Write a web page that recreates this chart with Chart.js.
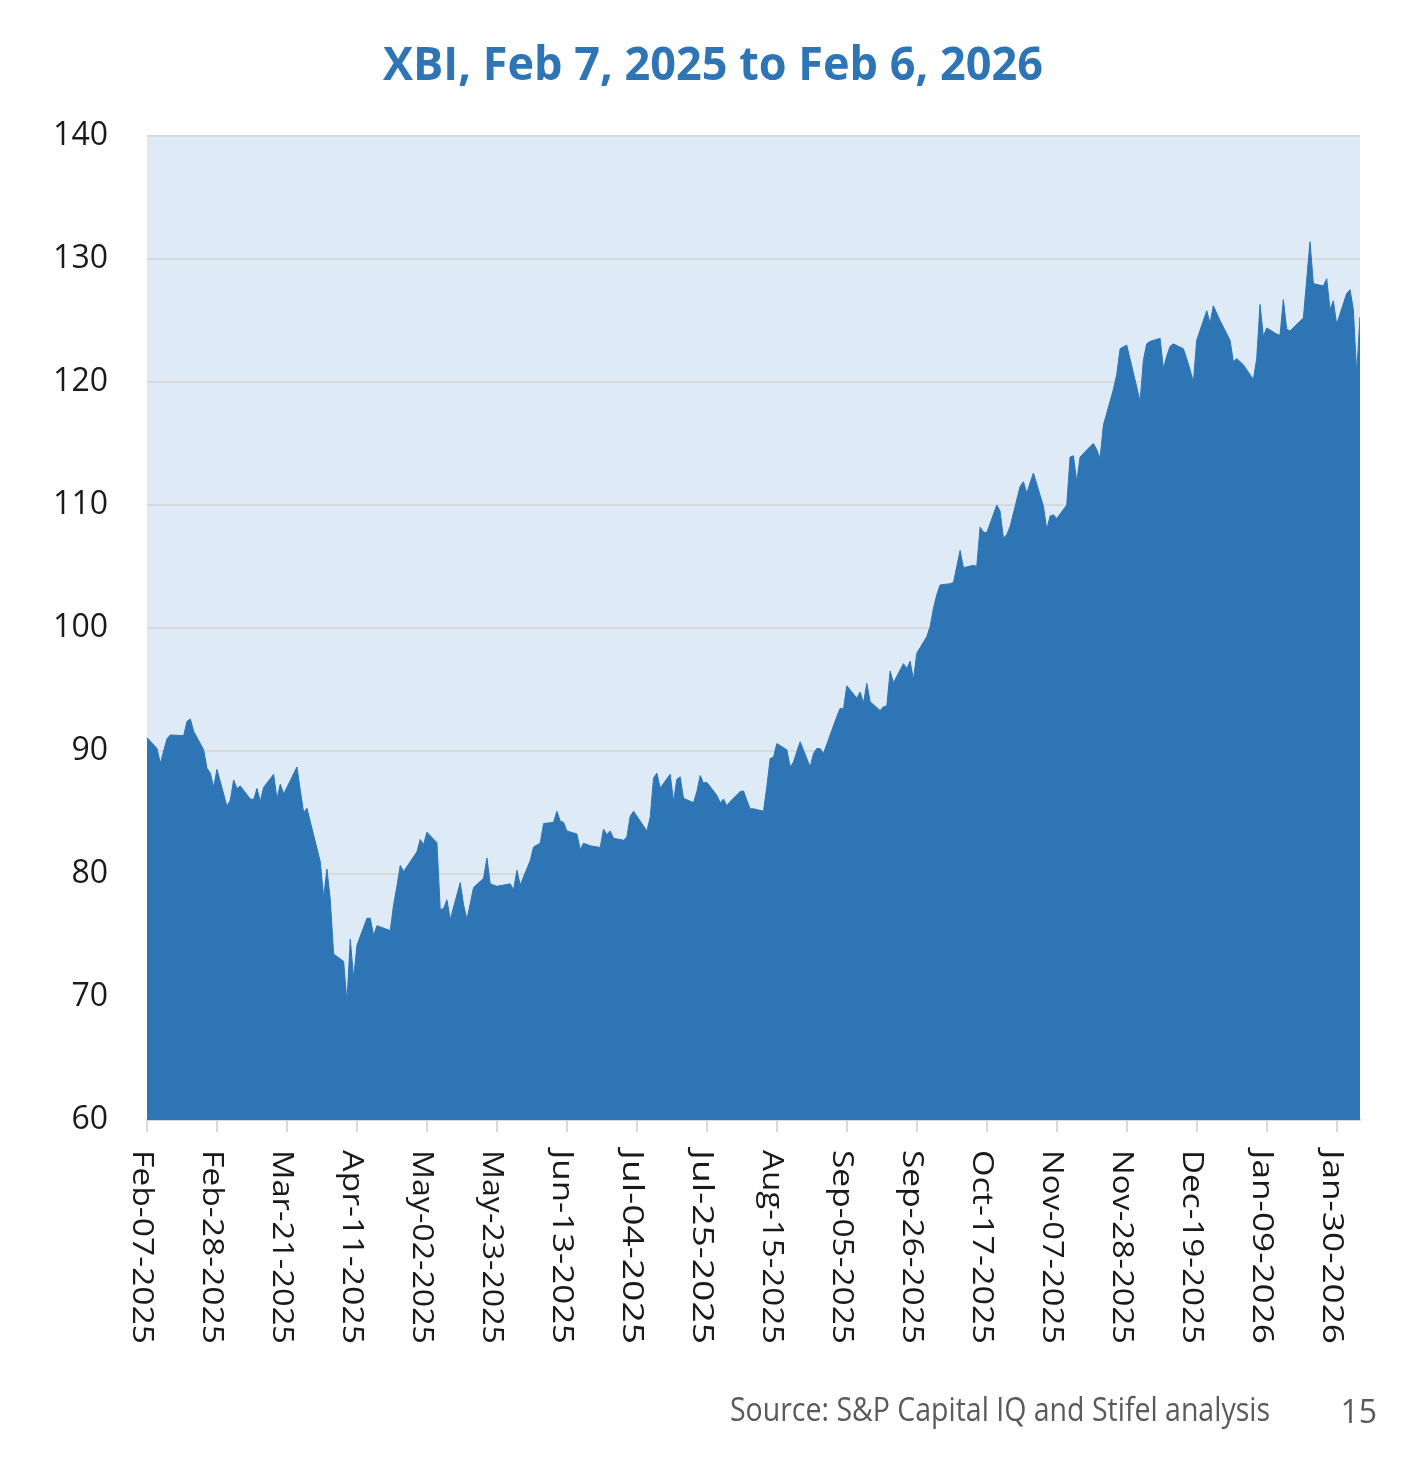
<!DOCTYPE html>
<html><head><meta charset="utf-8">
<script src="https://cdn.jsdelivr.net/npm/chart.js@4.4.1/dist/chart.umd.min.js"></script>
<style>html,body{margin:0;padding:0;background:#fff;}canvas{display:block;}</style>
</head><body>
<canvas id="c" width="1401" height="1474"></canvas>
<script>
// Day offsets from Feb 7, 2025 (trading days)
const tradingDays = [
0,3,4,5,6,7,11,12,13,14,17,18,19,20,21,24,25,26,27,28,31,32,33,34,35,38,39,40,41,42,45,46,47,48,49,
52,53,54,55,56,59,60,61,62,63,66,67,68,69,73,74,75,76,77,80,81,82,83,84,87,88,89,90,91,94,95,96,97,98,
101,102,103,104,105,109,110,111,112,115,116,117,118,119,122,123,124,125,126,129,130,131,133,136,137,138,139,140,
143,144,145,146,150,151,152,153,154,157,158,159,160,161,164,165,166,167,168,171,172,173,174,175,178,179,180,181,182,
185,186,187,188,189,192,193,194,195,196,199,200,201,202,203,207,208,209,210,213,214,215,216,217,220,221,222,223,224,
227,228,229,230,231,234,235,236,237,238,241,242,243,244,245,248,249,250,251,252,255,256,257,258,259,262,263,264,265,266,
269,270,271,272,273,276,277,278,279,280,283,284,285,286,287,290,291,292,294,297,298,299,300,301,304,305,306,307,308,
311,312,313,314,315,318,319,320,322,325,326,327,329,332,333,334,335,336,339,340,341,342,343,347,348,349,350,353,354,355,356,357,
360,361,362,363,364];
const xbiClose = [
91.1,90.2,89.0,90.0,91.0,91.3,91.25,92.4,92.6,91.6,90.1,88.6,88.2,87.05,88.5,85.5,86.0,87.65,86.95,87.15,86.1,86.05,86.95,85.9,87.05,88.1,86.1,87.3,86.5,87.05,88.7,86.8,85.0,85.35,84.25,
81.0,78.1,80.4,77.9,73.5,72.9,69.6,74.7,71.5,74.2,76.4,76.4,75.0,75.8,75.4,77.5,79.0,80.7,80.2,81.4,81.8,82.8,82.4,83.4,82.55,77.1,77.2,77.9,76.3,79.3,77.5,76.3,77.6,78.9,
79.65,81.3,79.2,79.1,79.0,79.2,78.7,80.3,79.1,81.1,82.2,82.35,82.5,84.1,84.2,85.1,84.3,84.2,83.5,83.25,82.0,82.5,82.3,82.15,83.65,83.2,83.5,82.9,
82.75,83.0,84.7,85.1,83.5,84.6,87.8,88.2,87.0,88.1,85.9,87.7,87.9,86.15,85.8,86.7,88.0,87.4,87.45,86.4,85.8,86.1,85.55,85.9,86.7,86.75,86.0,85.3,85.3,
85.1,87.1,89.4,89.5,90.6,90.1,88.7,89.1,89.95,90.75,88.7,89.8,90.2,90.2,89.8,92.8,93.47,93.4,95.3,94.3,94.8,93.9,95.5,94.0,93.3,93.6,93.66,96.5,95.55,
97.1,96.7,97.3,95.8,97.95,99.3,100.1,101.6,102.7,103.5,103.6,103.7,105.0,106.3,104.9,105.1,105.0,108.2,107.8,107.75,110.0,109.5,107.3,107.6,108.25,111.5,111.9,110.95,111.8,112.6,
109.9,108.0,109.1,109.2,108.9,110.0,113.9,114.0,111.9,113.9,114.75,115.0,114.5,113.8,116.5,119.4,120.6,122.7,123.0,119.6,118.4,121.8,123.1,123.3,123.55,121.1,122.1,122.9,123.1,
122.7,121.9,121.0,120.0,123.4,125.8,124.8,126.2,125.0,123.4,121.65,121.9,121.4,120.2,121.9,126.3,123.7,124.4,123.9,123.8,126.7,124.3,124.15,125.2,128.3,131.4,128.0,127.8,128.4,125.9,126.6,124.7,
127.2,127.5,125.9,120.7,125.3];
const tickDays = [0,21,42,63,84,105,126,147,168,189,210,231,252,273,294,315,336,357];
const tickLabels = ['Feb-07-2025','Feb-28-2025','Mar-21-2025','Apr-11-2025','May-02-2025','May-23-2025',
  'Jun-13-2025','Jul-04-2025','Jul-25-2025','Aug-15-2025','Sep-05-2025','Sep-26-2025','Oct-17-2025',
  'Nov-07-2025','Nov-28-2025','Dec-19-2025','Jan-09-2026','Jan-30-2026'];
const chartTitle = 'XBI, Feb 7, 2025 to Feb 6, 2026';
const sourceNote = 'Source: S&P Capital IQ and Stifel analysis';
const pageNumber = '15';

const BLUE = 'rgb(46,117,182)';
const BG = 'rgb(222,234,246)';
const GRID = 'rgb(217,217,217)';
const FONT = "'Open Sans', 'Noto Sans', sans-serif";

function fitText(ctx, text, x, y, targetW, font, color, align) {
  ctx.save();
  ctx.font = font;
  const w = ctx.measureText(text).width;
  const s = targetW / w;
  ctx.fillStyle = color;
  ctx.textBaseline = 'alphabetic';
  ctx.textAlign = 'left';
  ctx.translate(x, y);
  ctx.scale(s, 1);
  const off = align === 'center' ? -w / 2 : 0;
  ctx.fillText(text, off, 0);
  ctx.restore();
}

const decor = {
  id: 'decor',
  beforeDraw(chart) {
    const {ctx, chartArea: a} = chart;
    ctx.save();
    ctx.fillStyle = BG;
    ctx.fillRect(a.left, a.top, a.right - a.left, a.bottom - a.top);
    ctx.restore();
  },
  afterDraw(chart) {
    const ctx = chart.ctx;
    const xs = chart.scales.x;
    // title
    fitText(ctx, chartTitle, 713, 80, 660, "bold 46px " + FONT, BLUE, 'center');
    // rotated x labels (reading top to bottom)
    tickDays.forEach((d, i) => {
      const px = xs.getPixelForValue(d);
      ctx.save();
      ctx.translate(px - 14, 1150);
      ctx.rotate(Math.PI / 2);
      fitText(ctx, tickLabels[i], 0, 0, 194, "30px " + FONT, '#1a1a1a', 'left');
      ctx.restore();
    });
    // source + page number
    fitText(ctx, sourceNote, 730, 1421, 540, "32px " + FONT, '#5a5a5a', 'left');
    ctx.save();
    ctx.font = "32px " + FONT;
    ctx.fillStyle = '#5a5a5a';
    ctx.textAlign = 'right';
    ctx.fillText(pageNumber, 1377, 1423);
    ctx.restore();
  }
};

new Chart(document.getElementById('c'), {
  type: 'line',
  data: {
    datasets: [{
      data: tradingDays.map((d, i) => ({x: d, y: xbiClose[i]})),
      borderColor: BLUE,
      borderWidth: 1,
      backgroundColor: BLUE,
      fill: 'start',
      pointRadius: 0,
      tension: 0
    }]
  },
  options: {
    responsive: false,
    animation: false,
    devicePixelRatio: 1,
    layout: {padding: {left: 0, right: 41, top: 136, bottom: 0}},
    plugins: {legend: {display: false}, tooltip: {enabled: false}, title: {display: false}},
    scales: {
      x: {
        type: 'linear', min: 0, max: 364,
        afterBuildTicks(s) { s.ticks = tickDays.map(v => ({value: v})); },
        afterFit(s) { s.height = 354; },
        ticks: {display: false},
        grid: {drawOnChartArea: false, drawTicks: true, tickLength: 12, color: GRID, lineWidth: 2},
        border: {display: true, color: GRID, width: 2}
      },
      y: {
        min: 60, max: 140,
        afterFit(s) { s.width = 147; },
        ticks: {stepSize: 10, padding: 39, color: '#1a1a1a', font: {family: FONT, size: 32}},
        grid: {color: GRID, lineWidth: 2, drawTicks: false},
        border: {display: false}
      }
    }
  },
  plugins: [decor]
});
</script>
</body></html>
